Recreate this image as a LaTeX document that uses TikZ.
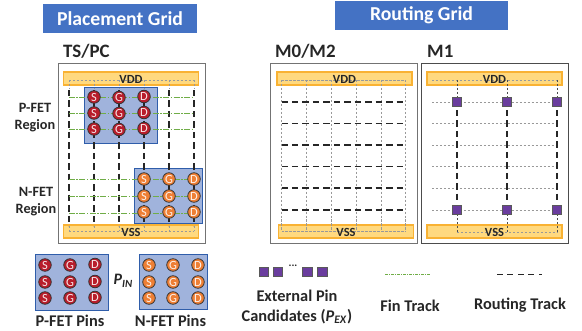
\documentclass[tikz,border=0pt]{standalone}
\usepackage{fontspec}
\setmainfont{Carlito}
\definecolor{banner}{HTML}{4472C4}
\definecolor{barfill}{HTML}{FFD97F}
\definecolor{barline}{HTML}{F9B233}
\definecolor{pinbox}{HTML}{A0B3DC}
\definecolor{pinline}{HTML}{2F5DAA}
\definecolor{pred}{HTML}{B81D2B}
\definecolor{porange}{HTML}{EE7F35}
\definecolor{purp}{HTML}{6A3D9E}
\definecolor{fin}{HTML}{70AD47}
\definecolor{txt}{HTML}{262626}
\tikzset{
  bannerbox/.style={fill=banner,text=white,font=\bfseries\fontsize{19.8}{20}\selectfont,inner sep=0pt,anchor=center},
  heading/.style={font=\bfseries\fontsize{19}{19}\selectfont,text=txt,anchor=west,inner sep=0pt},
  label/.style={font=\bfseries\fontsize{16.4}{20}\selectfont,text=txt,align=center,inner sep=0pt},
  region/.style={font=\bfseries\fontsize{14.3}{16.5}\selectfont,text=txt,align=center,inner sep=0pt},
  railtext/.style={font=\bfseries\fontsize{12.5}{12.5}\selectfont,text=txt,inner sep=0pt},
  rail/.style={fill=barfill,draw=barline,line width=1.1pt},
  frame/.style={draw=black!55,line width=1pt},
  pinarea/.style={fill=pinbox,draw=pinline,line width=.9pt},
  thintrack/.style={draw=black!40,line width=.55pt,dash pattern=on 2.5pt off 1.5pt},
  thicktrack/.style={draw=black!85,line width=1.05pt,dash pattern=on 6.5pt off 4pt},
  fintrack/.style={draw=fin,line width=.9pt,dash pattern=on 6pt off 1.5pt on 1.5pt off 1.5pt},
  pinr/.style={circle,minimum size=12.6pt,inner sep=0pt,fill=pred,draw=black!80,line width=.8pt,text=white!90!pred,font=\fontsize{12.5}{12.5}\selectfont},
  pino/.style={pinr,fill=porange,text=white!90!porange},
  expin/.style={rectangle,minimum size=9.8pt,inner sep=0pt,fill=purp,draw=black!65,line width=.8pt},
}
\begin{document}
\begin{tikzpicture}[x=1bp,y=-1bp]
\useasboundingbox (0,0) rectangle (582,330);
% banners
\node[bannerbox,minimum width=154bp,minimum height=29bp] (bp) at (120,18.5) {Placement Grid};
\node[bannerbox,minimum width=173bp,minimum height=29bp] (br) at (421.5,15.5) {Routing Grid};
% headings
\node[heading] (h1) at (63,51) {TS/PC};
\node[heading] (h2) at (275,51) {M0/M2};
\node[heading] (h3) at (427,51) {M1};
% frames
\draw[frame] (58,63) rectangle (205,243);
\draw[frame] (270,63) rectangle (417,243);
\draw[frame,draw=black!70] (421,63) rectangle (568,243);
% rails
\draw[rail] (63.5,72) rectangle (198.5,85);
\draw[rail] (63.5,225) rectangle (198.5,238);
\draw[rail] (277,72) rectangle (412,85);
\draw[rail] (278.5,225) rectangle (413.5,238);
\draw[rail] (427,72) rectangle (562,85);
\draw[rail] (427,225) rectangle (562,238);
% placement pin areas
\draw[pinarea] (84.5,87) rectangle (157,143);
\draw[pinarea] (134.5,168) rectangle (202.5,223);
% placement grid
\draw[thintrack] (69,80) -- (194,80);
\draw[thintrack] (69,231) -- (194,231);
\foreach \x in {69,94,119,144,169,194}{
  \draw[thintrack] (\x,80) -- (\x,88);
  \draw[thicktrack] (\x,90) -- (\x,226);
  \draw[thintrack] (\x,226) -- (\x,231);
}
\foreach \y in {97,113,129}{\draw[fintrack] (69,\y) -- (194,\y);}
\foreach \y in {179,196,213}{\draw[fintrack] (69,\y) -- (194,\y);}
\foreach \y in {97,113,129}{
  \node[pinr] at (94,\y) {S};
  \node[pinr] at (119,\y+.5) {G};
  \node[pinr] at (144,\y-.5) {D};
}
\foreach \y in {179,196,212}{
  \node[pino] at (144,\y) {S};
  \node[pino] at (169,\y) {G};
  \node[pino] at (194,\y) {D};
}
% M0/M2 grid
\draw[thintrack] (281.5,80) -- (405.5,80);
\draw[thintrack] (281.5,231) -- (405.5,231);
\foreach \x in {281.5,306,331,356.5,381,405.5}{\draw[thintrack] (\x,80) -- (\x,231);}
\foreach \y in {102,123.5,145,166.5,188,210}{\draw[thicktrack] (281.5,\y) -- (406,\y);}
% M1 grid
\draw[thintrack] (432,80) -- (557,80);
\draw[thintrack] (457,232) -- (557,232);
\foreach \y in {102,123.5,145,166.5,188,210}{\draw[thintrack] (432,\y) -- (557,\y);}
\foreach \x in {457,507,557}{
  \draw[thintrack,draw=black!70] (\x,80) -- (\x,102);
  \draw[thicktrack] (\x,110) -- (\x,204);
  \draw[thintrack,draw=black!70] (\x,210) -- (\x,232);
  \node[expin] at (\x,102) {};
  \node[expin] at (\x,210) {};
}
% rail labels
\node[railtext] (vdd1) at (131,79.5) {VDD};
\node[railtext] (vss1) at (131,232) {VSS};
\node[railtext] (vdd2) at (344.5,79.5) {VDD};
\node[railtext] (vss2) at (346,232) {VSS};
\node[railtext] (vdd3) at (494.5,79.5) {VDD};
\node[railtext] (vss3) at (494.5,232) {VSS};
% region labels
\node[region] (pr) at (35,117.5) {P-FET\\Region};
\node[region] (nr) at (36,201.5) {N-FET\\Region};
% pin sets
\draw[pinarea] (35.5,254) rectangle (108,310);
\draw[pinarea] (139,254) rectangle (207,309);
\foreach \y in {265,282,298}{
  \node[pinr] at (45,\y) {S};
  \node[pinr] at (70,\y) {G};
  \node[pinr] at (95,\y-.5) {D};
  \node[pino] at (149,\y) {S};
  \node[pino] at (173,\y) {G};
  \node[pino] at (198,\y) {D};
}
\node[font=\bfseries\itshape\fontsize{16}{16}\selectfont,text=txt,inner sep=0pt] (pin) at (123,281) {P\raisebox{-3pt}{\fontsize{11}{11}\selectfont IN}};
\node[label] (l1) at (70,321) {P-FET Pins};
\node[label] (l2) at (170.5,321) {N-FET Pins};
% legend
\foreach \x in {264,278,307.5,322.5}{\node[expin] at (\x,272) {};}
\node[font=\bfseries\fontsize{11}{11}\selectfont,text=txt,inner sep=0pt] (dots) at (293,265.5) {...};
\draw[fintrack,line width=.8pt,dash pattern=on 3pt off 1pt on 1pt off 1pt] (385,274) -- (430,274);
\draw[thicktrack,line width=.9pt,dash pattern=on 6pt off 4.5pt] (497,274) -- (542,274);
\node[label] (l3) at (297,307) {External Pin\\Candidates (\textit{P}\textsubscript{\textit{EX}})};
\node[label] (l4) at (410,306) {Fin Track};
\node[label] (l5) at (520,305) {Routing Track};
\end{tikzpicture}
\end{document}
